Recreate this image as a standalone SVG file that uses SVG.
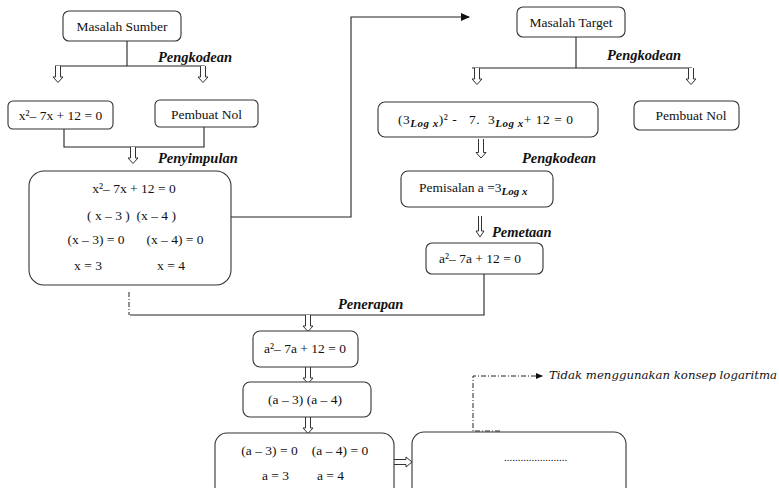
<svg xmlns="http://www.w3.org/2000/svg" width="779" height="488" viewBox="0 0 779 488">
<defs>
<style>
.box{fill:#fff;stroke:#333;stroke-width:1.1}
.t{font-family:"Liberation Serif","Times New Roman",serif;font-size:13.5px;fill:#111;white-space:pre}
.c{text-anchor:middle}
.lbl{font-family:"Liberation Serif","Times New Roman",serif;font-size:14.5px;font-weight:bold;font-style:italic;fill:#111}
.ln{fill:none;stroke:#222;stroke-width:1.1}
.dd{fill:none;stroke:#222;stroke-width:1;stroke-dasharray:5 2 1 2}
.ha{fill:#fff;stroke:#333;stroke-width:1}
.sub{font-style:italic;font-weight:bold;font-size:11px}
.note{font-family:"DejaVu Serif",serif;font-style:italic;font-size:11px;fill:#111}
</style>
<path id="dn" class="ha" d="M-2.5,0 V11 H-5 L0,16.5 L5,11 H2.5 V0"/>
<path id="dn2" class="ha" d="M-2.5,0 V13.5 H-5 L0,19 L5,13.5 H2.5 V0"/>
<marker id="ah" markerWidth="9" markerHeight="8" refX="8" refY="4" orient="auto" markerUnits="userSpaceOnUse"><path d="M0,0 L9,4 L0,8 Z" fill="#111"/></marker>
<marker id="ah2" markerWidth="7" markerHeight="6" refX="6" refY="3" orient="auto" markerUnits="userSpaceOnUse"><path d="M0,0 L7,3 L0,6 Z" fill="#111"/></marker>
</defs>

<g id="connectors">
<path class="ln" d="M127,41 V66 M55,66 H205"/>
<use href="#dn" x="58" y="66"/>
<use href="#dn" x="203" y="66"/>
<path class="ln" d="M64,129 V147 H204 V127"/>
<use href="#dn" x="133" y="147"/>
<path class="ln" d="M231,217 H351 V17 H469" marker-end="url(#ah)"/>
<path class="ln" d="M576,37 V68 M472,68 H692"/>
<use href="#dn" x="477" y="68"/>
<use href="#dn" x="691" y="68"/>
<use href="#dn2" x="481" y="139"/>
<path class="ha" d="M478.5,216 V231 H476 L480,237 L484,231 H481.5 V216"/>
<path class="ln" d="M484,274 V315 H130"/>
<path class="dd" d="M129,292 V315"/>
<use href="#dn" x="308" y="315"/>
<use href="#dn" x="308" y="367"/>
<use href="#dn" x="308" y="417"/>
<path class="ha" d="M394,459.5 H406 V457 L412,462 L406,467 V464.5 H394"/>
<path class="dd" d="M500,431 H473 V376 H542" marker-end="url(#ah2)"/>
<text class="lbl" x="158" y="62">Pengkodean</text>
<text class="lbl" x="158" y="163">Penyimpulan</text>
<text class="lbl" x="607" y="60">Pengkodean</text>
<text class="lbl" x="522" y="163">Pengkodean</text>
<text class="lbl" x="492" y="237">Pemetaan</text>
<text class="lbl" x="338" y="309">Penerapan</text>
<text class="note" x="549" y="379" textLength="228" lengthAdjust="spacingAndGlyphs">Tidak menggunakan konsep logaritma</text>
</g>

<g id="masalah-sumber">
<rect class="box" x="63" y="11" width="118" height="30" rx="6"/>
<text class="t c" x="122" y="30.5">Masalah Sumber</text>
</g>

<g id="persamaan-sumber">
<rect class="box" x="8" y="101" width="105" height="28" rx="5"/>
<text class="t c" x="60.5" y="120">x²– 7x + 12 = 0</text>
</g>

<g id="pembuat-nol-sumber">
<rect class="box" x="155" y="100" width="103" height="27" rx="5"/>
<text class="t c" x="206.5" y="118.5">Pembuat Nol</text>
</g>

<g id="penyimpulan">
<rect class="box" x="29" y="171" width="202" height="114" rx="15"/>
<text class="t c" x="134" y="193">x²– 7x + 12 = 0</text>
<text class="t c" x="131.5" y="220">( x – 3 )  (x – 4 )</text>
<text class="t c" x="96" y="244">(x – 3) = 0</text>
<text class="t c" x="175" y="244">(x – 4) = 0</text>
<text class="t c" x="88" y="270">x = 3</text>
<text class="t c" x="171" y="270">x = 4</text>
</g>

<g id="masalah-target">
<rect class="box" x="517" y="7" width="108" height="30" rx="6"/>
<text class="t c" x="571" y="26.5">Masalah Target</text>
</g>

<g id="persamaan-target">
<rect class="box" x="378" y="102" width="220" height="35" rx="7"/>
<text class="t" x="398" y="124" textLength="175" lengthAdjust="spacing">(3<tspan class="sub" dy="3">Log x</tspan><tspan dy="-3">)² -   7.  3</tspan><tspan class="sub" dy="3">Log x</tspan><tspan dy="-3">+ 12 = 0</tspan></text>
</g>

<g id="pembuat-nol-target">
<rect class="box" x="634" y="101" width="105" height="29" rx="6"/>
<text class="t c" x="691" y="120">Pembuat Nol</text>
</g>

<g id="pemisalan">
<rect class="box" x="401" y="171" width="152" height="36" rx="7"/>
<text class="t" x="419" y="192">Pemisalan a =3<tspan class="sub" dy="3" font-weight="normal">Log x</tspan></text>
</g>

<g id="persamaan-a-target">
<rect class="box" x="426" y="243" width="117" height="31" rx="6"/>
<text class="t c" x="480" y="263">a²– 7a + 12 = 0</text>
</g>

<g id="persamaan-a">
<rect class="box" x="253" y="331" width="105" height="36" rx="7"/>
<text class="t c" x="305" y="353">a²– 7a + 12 = 0</text>
</g>

<g id="faktor-a">
<rect class="box" x="243" y="382" width="128" height="35" rx="7"/>
<text class="t c" x="305" y="404">(a – 3) (a – 4)</text>
</g>

<g id="akar-a">
<rect class="box" x="215" y="433" width="179" height="70" rx="12"/>
<text class="t c" x="269.5" y="455">(a – 3) = 0</text>
<text class="t c" x="340" y="455">(a – 4) = 0</text>
<text class="t c" x="275.5" y="480">a = 3</text>
<text class="t c" x="330.5" y="480">a = 4</text>
</g>

<g id="hasil">
<rect class="box" x="412" y="432" width="214" height="70" rx="12"/>
<text class="t c" x="535.5" y="461" style="font-size:11px">.......................</text>
</g>
</svg>
